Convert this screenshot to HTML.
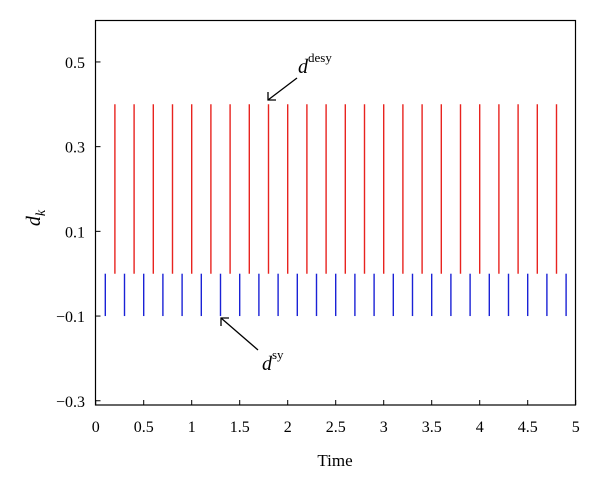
<!DOCTYPE html>
<html><head><meta charset="utf-8"><style>
body{margin:0;background:#fff;}
text{font-family:"Liberation Serif",serif;fill:#000;}
</style></head><body>
<svg width="600" height="488" xmlns="http://www.w3.org/2000/svg">
<rect x="95.5" y="20.5" width="480" height="384.5" fill="none" stroke="#000" stroke-width="1.2"/>
<g id="ticks"></g>
<g id="marks"></g>
<text x="335" y="466" font-size="17" text-anchor="middle">Time</text>
<text x="40" y="218" font-size="20" font-style="italic" text-anchor="middle" transform="rotate(-90 40 218)">d<tspan font-size="14" dy="5">k</tspan></text>
<line x1="297" y1="78" x2="268" y2="100" stroke="#000" stroke-width="1.3"/>
<polyline points="268,92 268,100 276,100" fill="none" stroke="#000" stroke-width="1.3"/>
<text x="298" y="73" font-size="20" font-style="italic">d<tspan font-size="13" font-style="normal" dy="-11">desy</tspan></text>
<line x1="258" y1="350" x2="221" y2="318" stroke="#000" stroke-width="1.3"/>
<polyline points="221,326 221,318 229,318" fill="none" stroke="#000" stroke-width="1.3"/>
<text x="262" y="370" font-size="20" font-style="italic">d<tspan font-size="13" font-style="normal" dy="-11">sy</tspan></text>
</svg>
<script>
const xTicks=[0,0.5,1,1.5,2,2.5,3,3.5,4,4.5,5];
const xTickLabels=["0","0.5","1","1.5","2","2.5","3","3.5","4","4.5","5"];
const yTicks=[0.5,0.3,0.1,-0.1,-0.3];
const yTickLabels=["0.5","0.3","0.1","-0.1","-0.3"];
const desyTimes=[0.2,0.4,0.6,0.8,1.0,1.2,1.4,1.6,1.8,2.0,2.2,2.4,2.6,2.8,3.0,3.2,3.4,3.6,3.8,4.0,4.2,4.4,4.6,4.8];
const desyValues=desyTimes.map(()=>0.4);
const syTimes=[0.1,0.3,0.5,0.7,0.9,1.1,1.3,1.5,1.7,1.9,2.1,2.3,2.5,2.7,2.9,3.1,3.3,3.5,3.7,3.9,4.1,4.3,4.5,4.7,4.9];
const syValues=syTimes.map(()=>-0.1);
const X=v=>95.7+v*96;
const Y=v=>273.7-v*423.5;
const NS="http://www.w3.org/2000/svg";
const tg=document.getElementById('ticks'),mg=document.getElementById('marks');
function mk(tag,a,p){const e=document.createElementNS(NS,tag);for(const k in a)e.setAttribute(k,a[k]);p.appendChild(e);return e;}
xTicks.forEach((v,i)=>{
 const l=mk('line',{x1:X(v),x2:X(v),y1:405,y2:400,stroke:'#000','stroke-width':1},tg);
 
 
 const t=mk('text',{x:X(v),y:432,'font-size':16,'text-anchor':'middle'},tg);t.textContent=xTickLabels[i];
 
 
});
yTicks.forEach((v,i)=>{
 const l=mk('line',{x1:95.5,x2:100.5,y1:Y(v),y2:Y(v),stroke:'#000','stroke-width':1},tg);
 
 
 const t=mk('text',{x:85,y:Y(v)+6,'font-size':16,'text-anchor':'end'},tg);t.textContent=yTickLabels[i].replace('-','\u2212');
 
 
});
desyTimes.forEach((v,i)=>{
 const l=mk('line',{x1:X(v),x2:X(v),y1:Y(0),y2:Y(desyValues[i]),stroke:'#e8231f','stroke-width':1.4},mg);
 
 
});
syTimes.forEach((v,i)=>{
 const l=mk('line',{x1:X(v),x2:X(v),y1:Y(0),y2:Y(syValues[i]),stroke:'#1a22d6','stroke-width':1.4},mg);
 
 
});
</script>
</body></html>
